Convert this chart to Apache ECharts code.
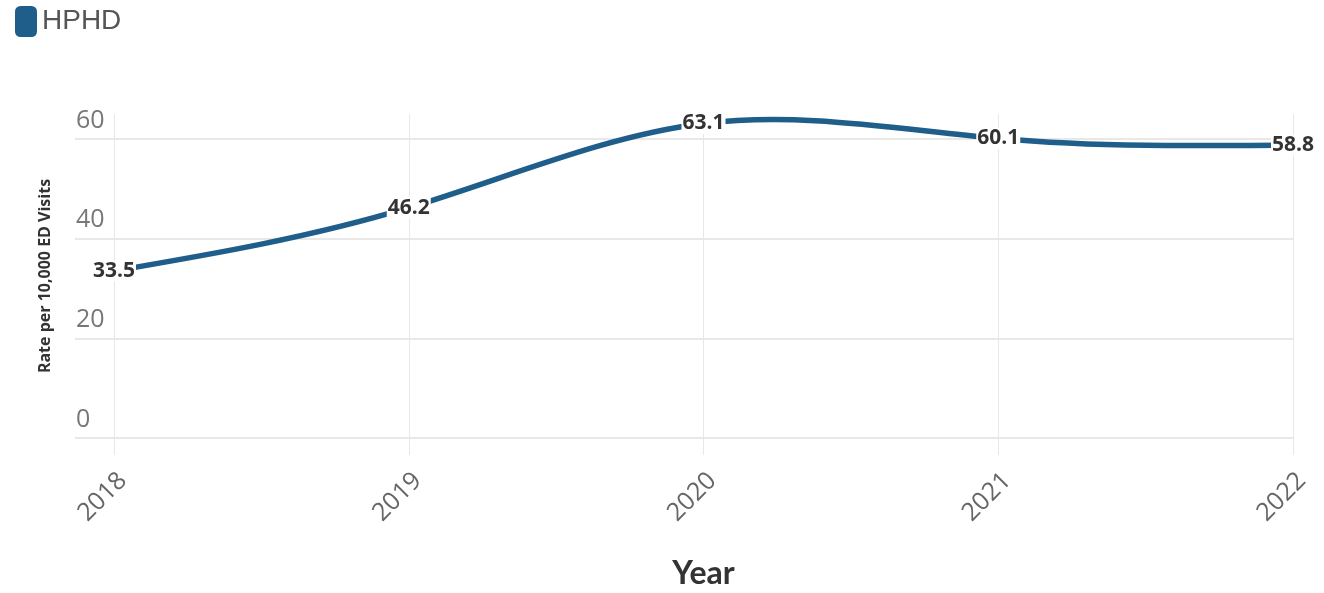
<!DOCTYPE html>
<html>
<head>
<meta charset="utf-8">
<script src="https://cdn.jsdelivr.net/npm/echarts@6/dist/echarts.min.js"></script>
<style>
html,body{margin:0;padding:0;background:#fff;}
#chart{width:1324px;height:593px;}
</style>
</head>
<body>
<div id="chart"></div>
<script>
const years = ['2018', '2019', '2020', '2021', '2022'];
const hphd = [33.5, 46.2, 63.1, 60.1, 58.8];
const seriesName = 'HPHD';
const yTitle = 'Rate per 10,000 ED Visits';
const xTitle = 'Year';

const lineColor = '#1f5e8a';
const grid = '#e8e8e8';
const gridCols = [grid, grid, grid, grid, 'rgba(0,0,0,0)'];

// natural cubic spline control points (same as d3.curveNatural)
function controlPoints(x) {
  const n = x.length - 1;
  const a = new Array(n), b = new Array(n), r = new Array(n);
  let i, m;
  a[0] = 0; b[0] = 2; r[0] = x[0] + 2 * x[1];
  for (i = 1; i < n - 1; ++i) { a[i] = 1; b[i] = 4; r[i] = 4 * x[i] + 2 * x[i + 1]; }
  a[n - 1] = 2; b[n - 1] = 7; r[n - 1] = 8 * x[n - 1] + x[n];
  for (i = 1; i < n; ++i) { m = a[i] / b[i - 1]; b[i] -= m; r[i] -= m * r[i - 1]; }
  a[n - 1] = r[n - 1] / b[n - 1];
  for (i = n - 2; i >= 0; --i) a[i] = (r[i] - a[i + 1]) / b[i];
  b[n - 1] = (x[n] + a[n - 1]) / 2;
  for (i = 0; i < n - 1; ++i) b[i] = 2 * x[i + 1] - a[i + 1];
  return [a, b];
}

const chart = echarts.init(document.getElementById('chart'));
chart.setOption({
  animation: false,
  legend: {
    left: 10, top: 1,
    icon: 'roundRect',
    itemWidth: 22, itemHeight: 31,
    itemGap: 10,
    textStyle: { fontFamily: 'Liberation Sans', fontSize: 28, color: '#555' },
    data: [seriesName]
  },
  grid: { left: 114, right: 31, top: 114, bottom: 155, containLabel: false, outerBoundsMode: 'none' },
  xAxis: {
    type: 'category',
    data: years,
    boundaryGap: false,
    name: xTitle,
    nameLocation: 'middle',
    nameGap: 120,
    nameTextStyle: { fontFamily: 'Lato', fontWeight: 'bold', fontSize: 32, color: '#333' },
    axisLine: { show: true, lineStyle: { color: grid, width: 2 } },
    axisTick: { show: true, length: 17, lineStyle: { color: grid, width: 1 } },
    axisLabel: { rotate: 45, margin: 30, verticalAlign: 'top', fontFamily: 'Open Sans', fontSize: 25, color: '#666' },
    splitLine: { show: true, lineStyle: { color: grid, width: 1 } }
  },
  yAxis: {
    type: 'value',
    min: 0, max: 65, interval: 20,
    name: yTitle,
    nameLocation: 'middle',
    nameGap: 61,
    nameTextStyle: { fontFamily: 'Open Sans', fontWeight: 'bold', fontSize: 16, color: '#333' },
    axisLine: { show: false },
    axisTick: { show: true, length: 39, lineStyle: { color: gridCols, width: 2 } },
    axisLabel: {
      showMaxLabel: false,
      margin: 38, align: 'left', verticalAlign: 'bottom',
      padding: [0, 0, 6, 0],
      fontFamily: 'Open Sans', fontSize: 25, color: '#777'
    },
    splitLine: { show: true, lineStyle: { color: gridCols, width: 2 } }
  },
  series: [{
    name: seriesName + ' curve',
    type: 'custom',
    data: [[0, hphd[0]]],
    z: 2,
    silent: true,
    renderItem: function (params, api) {
      const pts = hphd.map((v, i) => api.coord([i, v]));
      const xs = pts.map(p => p[0]);
      const ys = pts.map(p => p[1]);
      const [ax, bx] = controlPoints(xs);
      const [ay, by] = controlPoints(ys);
      let d = 'M' + xs[0] + ' ' + ys[0];
      for (let i = 0; i < xs.length - 1; i++) {
        d += ' C' + ax[i] + ' ' + ay[i] + ' ' + bx[i] + ' ' + by[i] + ' ' + xs[i + 1] + ' ' + ys[i + 1];
      }
      return {
        type: 'path',
        shape: { pathData: d },
        style: { fill: 'none', stroke: lineColor, lineWidth: 5.5, lineCap: 'round' }
      };
    }
  }, {
    name: seriesName,
    type: 'line',
    data: hphd,
    z: 5,
    clip: false,
    symbol: 'circle',
    symbolSize: 1,
    showSymbol: true,
    color: lineColor,
    lineStyle: { width: 5, color: lineColor, opacity: 0 },
    label: {
      show: true,
      position: 'inside',
      fontFamily: 'Open Sans', fontWeight: 'bold', fontSize: 21, color: '#333',
      backgroundColor: '#fff',
      padding: [0, 1, 0, 1],
      formatter: p => p.value.toFixed(1)
    }
  }]
});
</script>
</body>
</html>
